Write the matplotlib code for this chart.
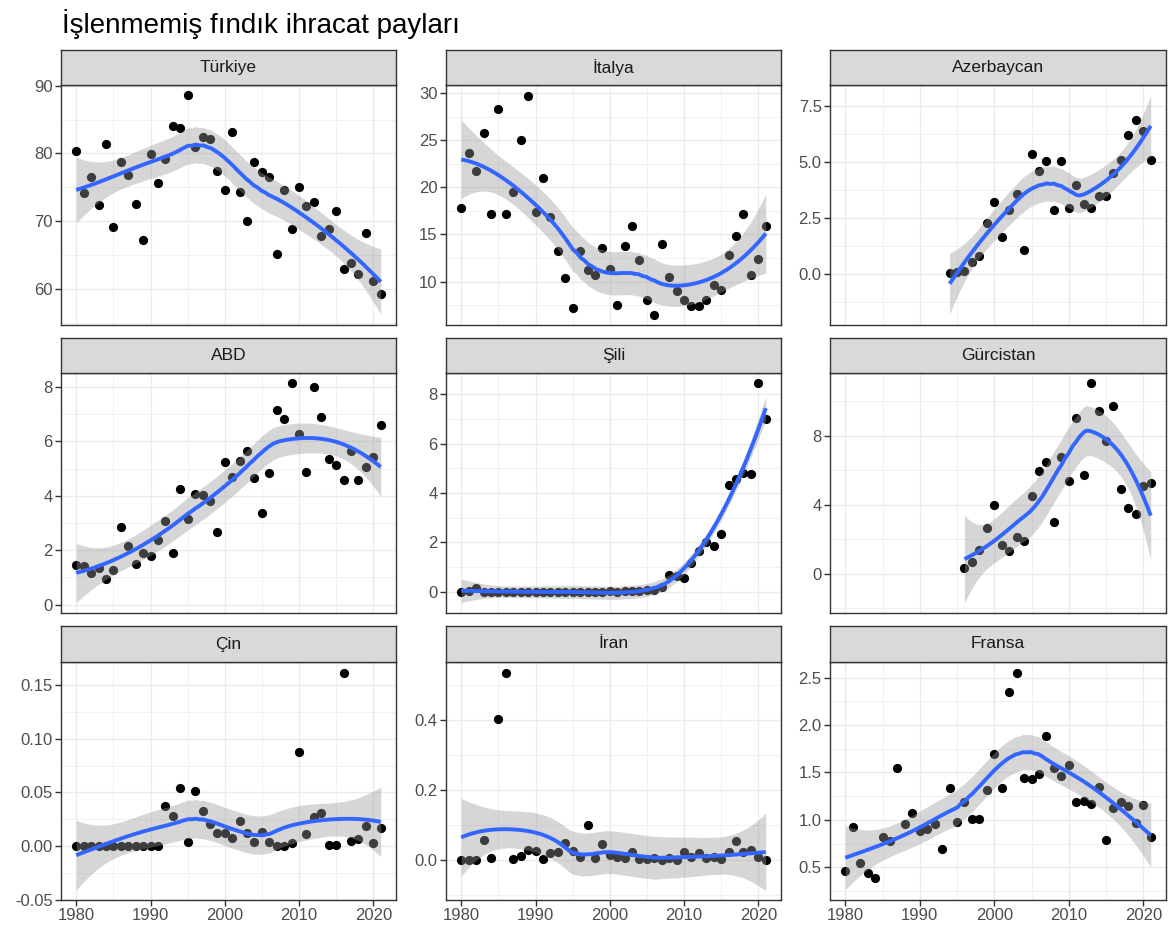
import numpy as np
import matplotlib
matplotlib.use("Agg")
import matplotlib.pyplot as plt
from matplotlib.ticker import FixedLocator, FixedFormatter

plt.rcParams['font.family'] = ['Liberation Sans', 'DejaVu Sans']

# data (share %, by year)
years = list(range(1980, 2022))
years_aze = list(range(1994, 2022))
years_geo = list(range(1996, 2022))

turkiye = [80.3, 74.1, 76.5, 72.4, 81.4, 69.2, 78.7, 76.8, 72.6, 67.3,
           79.9, 75.7, 79.2, 84.1, 83.8, 88.6, 81.0, 82.5, 82.2, 77.4,
           74.6, 83.1, 74.3, 70.1, 78.7, 77.2, 76.5, 65.2, 74.6, 68.9,
           75.1, 72.3, 72.8, 67.9, 68.9, 71.5, 62.9, 63.9, 62.2, 68.2,
           61.2, 59.3]
italya = [17.8, 23.6, 21.7, 25.8, 17.2, 28.3, 17.2, 19.5, 25.0, 29.7,
          17.4, 21.0, 16.8, 13.3, 10.4, 7.2, 13.2, 11.2, 10.7, 13.6,
          11.3, 7.5, 13.8, 15.9, 12.3, 8.0, 6.5, 14.0, 10.5, 9.0,
          8.1, 7.4, 7.4, 8.0, 9.6, 9.1, 12.8, 14.8, 17.2, 10.7,
          12.4, 15.9]
azerbaycan = [0.03, 0.08, 0.10, 0.53, 0.81, 2.27, 3.20, 1.65, 2.83, 3.59,
              1.05, 5.36, 4.60, 5.05, 2.86, 5.06, 2.95, 3.95, 3.14, 2.95,
              3.50, 3.50, 4.50, 5.08, 6.23, 6.86, 6.39, 5.10]
abd = [1.47, 1.42, 1.15, 1.36, 0.93, 1.27, 2.85, 2.16, 1.48, 1.89,
       1.77, 2.38, 3.06, 1.90, 4.25, 3.16, 4.07, 4.03, 3.80, 2.67,
       5.26, 4.70, 5.30, 5.65, 4.64, 3.36, 4.83, 7.17, 6.84, 8.14,
       6.27, 4.89, 8.01, 6.89, 5.37, 5.14, 4.57, 5.65, 4.57, 5.06,
       5.42, 6.60]
sili = [0.0, 0.02, 0.14, 0.01, 0.0, 0.01, 0.0, 0.01, 0.0, 0.0,
        0.01, 0.0, 0.0, 0.01, 0.0, 0.0, 0.01, 0.0, 0.01, 0.0,
        0.02, 0.01, 0.02, 0.03, 0.05, 0.07, 0.08, 0.20, 0.69, 0.64,
        0.56, 1.16, 1.65, 2.00, 1.86, 2.33, 4.34, 4.56, 4.83, 4.76,
        8.45, 7.02]
gurcistan = [0.33, 0.70, 1.38, 2.67, 3.96, 1.68, 1.34, 2.10, 1.87, 4.50,
             5.95, 6.48, 3.00, 6.78, 5.36, 9.03, 5.75, 11.06, 9.44, 7.70,
             9.73, 4.91, 3.80, 3.47, 5.07, 5.24]
cin = [0.0, 0.0, 0.0, 0.0, 0.0, 0.0, 0.0, 0.0, 0.0, 0.0,
       0.0, 0.0, 0.037, 0.028, 0.0545, 0.0037, 0.0514, 0.0325, 0.021, 0.0118,
       0.012, 0.0071, 0.023, 0.0118, 0.0037, 0.013, 0.0037, 0.0, 0.0, 0.0025,
       0.0876, 0.011, 0.027, 0.031, 0.0006, 0.0006, 0.1613, 0.0046, 0.0065, 0.019,
       0.0028, 0.0164]
iran = [0.0, 0.0, 0.0, 0.058, 0.007, 0.402, 0.534, 0.004, 0.011, 0.029,
        0.027, 0.002, 0.019, 0.022, 0.050, 0.025, 0.009, 0.101, 0.006, 0.045,
        0.014, 0.010, 0.006, 0.023, 0.004, 0.004, 0.007, 0.001, 0.006, 0.0,
        0.023, 0.008, 0.021, 0.006, 0.008, 0.002, 0.023, 0.053, 0.023, 0.029,
        0.010, 0.0]
fransa = [0.46, 0.92, 0.54, 0.44, 0.39, 0.82, 0.78, 1.55, 0.96, 1.07,
          0.88, 0.90, 0.96, 0.69, 1.34, 0.98, 1.19, 1.01, 1.01, 1.32,
          1.70, 1.34, 2.35, 2.55, 1.44, 1.43, 1.48, 1.88, 1.55, 1.46,
          1.58, 1.19, 1.20, 1.17, 1.35, 0.79, 1.12, 1.19, 1.15, 0.97,
          1.16, 0.82]

panels = [
    ("Türkiye", years, turkiye, (54.7, 90.1), [60, 70, 80, 90], ["60", "70", "80", "90"]),
    ("İtalya", years, italya, (5.4, 30.85), [10, 15, 20, 25, 30], ["10", "15", "20", "25", "30"]),
    ("Azerbaycan", years_aze, azerbaycan, (-2.3, 8.45), [0, 2.5, 5, 7.5], ["0.0", "2.5", "5.0", "7.5"]),
    ("ABD", years, abd, (-0.31, 8.52), [0, 2, 4, 6, 8], ["0", "2", "4", "6", "8"]),
    ("Şili", years, sili, (-0.86, 8.87), [0, 2, 4, 6, 8], ["0", "2", "4", "6", "8"]),
    ("Gürcistan", years_geo, gurcistan, (-2.28, 11.64), [0, 4, 8], ["0", "4", "8"]),
    ("Çin", years, cin, (-0.0502, 0.1714), [-0.05, 0, 0.05, 0.10, 0.15],
     ["-0.05", "0.00", "0.05", "0.10", "0.15"]),
    ("İran", years, iran, (-0.114, 0.565), [0, 0.2, 0.4], ["0.0", "0.2", "0.4"]),
    ("Fransa", years, fransa, (0.155, 2.665), [0.5, 1.0, 1.5, 2.0, 2.5],
     ["0.5", "1.0", "1.5", "2.0", "2.5"]),
]


def loess_matrix(x, grid, span=0.75):
    # local quadratic fit with tricube weights, like R's loess defaults
    n = len(x)
    q = int(np.floor(n * span))
    L = np.zeros((len(grid), n))
    for i, x0 in enumerate(grid):
        d = np.abs(x - x0)
        h = np.sort(d)[q - 1]
        w = np.clip(1 - (d / h) ** 3, 0, None) ** 3
        X = np.column_stack([np.ones(n), x - x0, (x - x0) ** 2])
        XtW = X.T * w
        L[i] = np.linalg.solve(XtW @ X, XtW)[0]
    return L


def t_quantile(df, z=1.959964):
    g1 = (z ** 3 + z) / 4
    g2 = (5 * z ** 5 + 16 * z ** 3 + 3 * z) / 96
    g3 = (3 * z ** 7 + 19 * z ** 5 + 17 * z ** 3 - 15 * z) / 384
    return z + g1 / df + g2 / df ** 2 + g3 / df ** 3


def smooth(x, y):
    x = np.asarray(x, float)
    y = np.asarray(y, float)
    grid = np.linspace(x.min(), x.max(), 80)
    Lx = loess_matrix(x, x)
    res = y - Lx @ y
    M = np.eye(len(x)) - Lx
    MM = M.T @ M
    one = np.trace(MM)
    two = np.trace(MM @ MM)
    sigma = np.sqrt(np.sum(res ** 2) / one)
    Lg = loess_matrix(x, grid)
    fit = Lg @ y
    se = sigma * np.sqrt(np.sum(Lg ** 2, axis=1))
    t = t_quantile(one ** 2 / two)
    return grid, fit, fit - t * se, fit + t * se


W, H = 1174, 931
fig = plt.figure(figsize=(W / 100, H / 100), dpi=100)

cols = [(61, 396), (446, 781), (830, 1166)]
rows = [(50, 85, 325), (338, 373, 613), (626, 662, 900)]

fig.text(62 / W, 1 - 33 / H, "İşlenmemiş fındık ihracat payları",
         fontsize=20, va='baseline', ha='left', color='black')

for k, (name, xs, ys, ylim, yt, ylab) in enumerate(panels):
    r, c = divmod(k, 3)
    x0, x1 = cols[c]
    st, sb, pb = rows[r]
    ax = fig.add_axes([x0 / W, 1 - pb / H, (x1 - x0) / W, (pb - sb) / H])
    sax = fig.add_axes([x0 / W, 1 - sb / H, (x1 - x0) / W, (sb - st) / H])

    ax.scatter(xs, ys, s=44, color='black', linewidths=0, zorder=3)
    gx, fit, lo, hi = smooth(xs, ys)
    ax.fill_between(gx, lo, hi, color='#999999', alpha=0.4, linewidth=0, zorder=4)
    ax.plot(gx, fit, color='#3366FF', lw=2.8, zorder=5, solid_capstyle='butt')

    ax.set_xlim(1977.95, 2023.05)
    ax.set_ylim(*ylim)
    ax.xaxis.set_major_locator(FixedLocator([1980, 1990, 2000, 2010, 2020]))
    ax.xaxis.set_minor_locator(FixedLocator([1975, 1985, 1995, 2005, 2015, 2025]))
    ax.yaxis.set_major_locator(FixedLocator(yt))
    step = yt[1] - yt[0]
    ax.yaxis.set_minor_locator(FixedLocator(
        [yt[0] - step / 2] + [v + step / 2 for v in yt]))
    ax.yaxis.set_major_formatter(FixedFormatter(ylab))
    ax.grid(True, which='major', color='#EBEBEB', lw=1.0, zorder=0)
    ax.grid(True, which='minor', color='#EBEBEB', lw=0.5, zorder=0)
    ax.set_axisbelow(True)
    for sp in ax.spines.values():
        sp.set_color('#333333')
        sp.set_linewidth(1.0)
    ax.tick_params(axis='both', which='major', length=4, width=1.0, color='#333333',
                   labelsize=12, labelcolor='#4D4D4D', pad=2)
    ax.tick_params(axis='both', which='minor', length=0)
    if r < 2:
        ax.tick_params(axis='x', which='major', length=0, labelbottom=False)

    sax.set_facecolor('#D9D9D9')
    sax.set_xticks([])
    sax.set_yticks([])
    for sp in sax.spines.values():
        sp.set_color('#333333')
        sp.set_linewidth(1.0)
    sax.text(0.5, 0.5, name, transform=sax.transAxes, ha='center', va='center',
             fontsize=12.5, color='#1A1A1A')

fig.savefig("out.png", dpi=100)
